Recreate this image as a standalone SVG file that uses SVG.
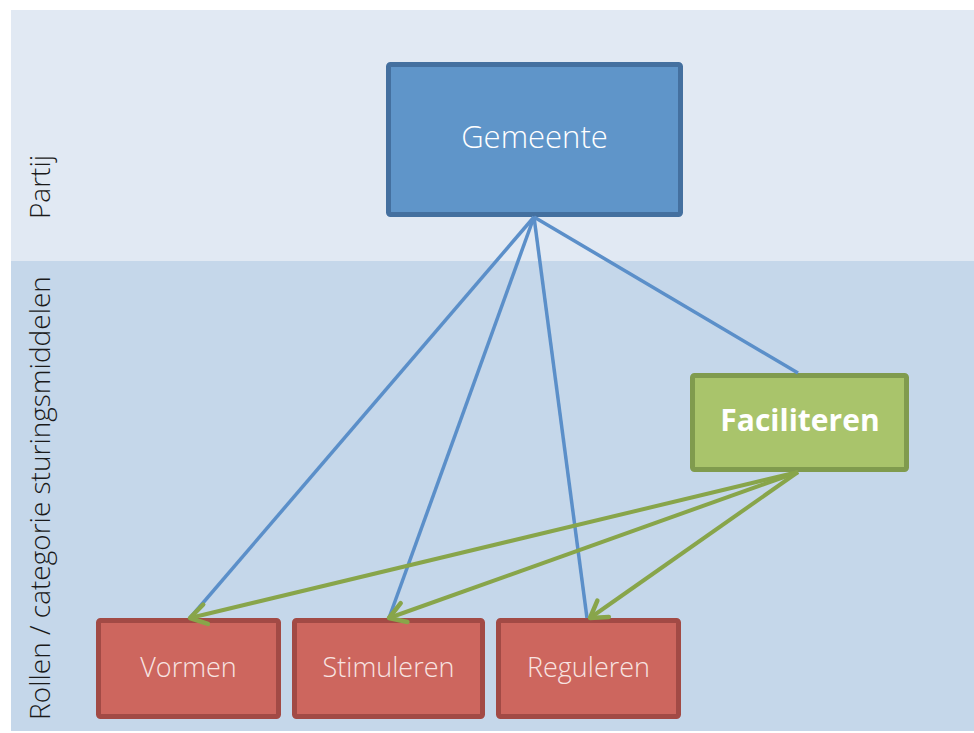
<svg xmlns="http://www.w3.org/2000/svg" width="974" height="733" viewBox="0 0 974 733">
<defs>
<style>
.lbl{font-family:"Open Sans","Liberation Sans",sans-serif;fill:#fff;text-anchor:middle;dominant-baseline:central}
.side{font-family:"Open Sans","Liberation Sans",sans-serif;fill:#1a1a1a;font-size:28px;font-weight:300;text-anchor:middle;dominant-baseline:central}
.blue{stroke:#5b8fc9;stroke-width:3.5;fill:none}
.green{stroke:#88a54a;stroke-width:4;fill:none}
.red rect{fill:#cd665e;stroke:#a24a45;stroke-width:5}
.red text{fill:#f8e4e2}
</style>
<marker id="ah" viewBox="0 0 30 30" refX="26" refY="15" markerWidth="30" markerHeight="30" markerUnits="userSpaceOnUse" orient="auto">
<path d="M10,5 L26,15 L10,25" fill="none" stroke="#88a54a" stroke-width="4.5" stroke-linecap="round" stroke-linejoin="round"/>
</marker>
</defs>
<rect x="0" y="0" width="974" height="733" fill="#ffffff"/>
<rect x="11" y="10" width="963" height="251" fill="#e1e9f3"/>
<rect x="11" y="261" width="963" height="470" fill="#c5d7ea"/>
<text class="side" transform="translate(39 187) rotate(-90)">Partij</text>
<text class="side" transform="translate(39 498) rotate(-90)">Rollen / categorie sturingsmiddelen</text>
<g id="gemeente">
<rect x="388.5" y="64.5" width="292" height="150" rx="2" fill="#5f95c9" stroke="#44709f" stroke-width="5"/>
<text class="lbl" x="534.5" y="136" font-size="31" font-weight="300">Gemeente</text>
</g>
<g id="faciliteren">
<rect x="692.5" y="375.5" width="214" height="94" rx="2" fill="#a9c46b" stroke="#809b4e" stroke-width="5"/>
<text class="lbl" x="800" y="419" font-size="30" font-weight="bold">Faciliteren</text>
</g>
<g id="vormen" class="red">
<rect x="98.5" y="620.5" width="180" height="96" rx="2"/>
<text class="lbl" x="188.5" y="666" font-size="27" font-weight="300">Vormen</text>
</g>
<g id="stimuleren" class="red">
<rect x="294.5" y="620.5" width="188" height="96" rx="2"/>
<text class="lbl" x="388.5" y="666" font-size="27" font-weight="300">Stimuleren</text>
</g>
<g id="reguleren" class="red">
<rect x="498.5" y="620.5" width="180" height="96" rx="2"/>
<text class="lbl" x="588.5" y="666" font-size="27" font-weight="300">Reguleren</text>
</g>
<g id="connectors">
<line class="blue" x1="534" y1="217" x2="190" y2="618"/>
<line class="blue" x1="534" y1="217" x2="389" y2="618"/>
<line class="blue" x1="534" y1="217" x2="587" y2="618"/>
<line class="blue" x1="534" y1="217" x2="798" y2="373"/>
<line class="green" x1="798" y1="472" x2="190" y2="618" marker-end="url(#ah)"/>
<line class="green" x1="798" y1="472" x2="389" y2="618" marker-end="url(#ah)"/>
<line class="green" x1="798" y1="472" x2="590" y2="618" marker-end="url(#ah)"/>
</g>
</svg>
